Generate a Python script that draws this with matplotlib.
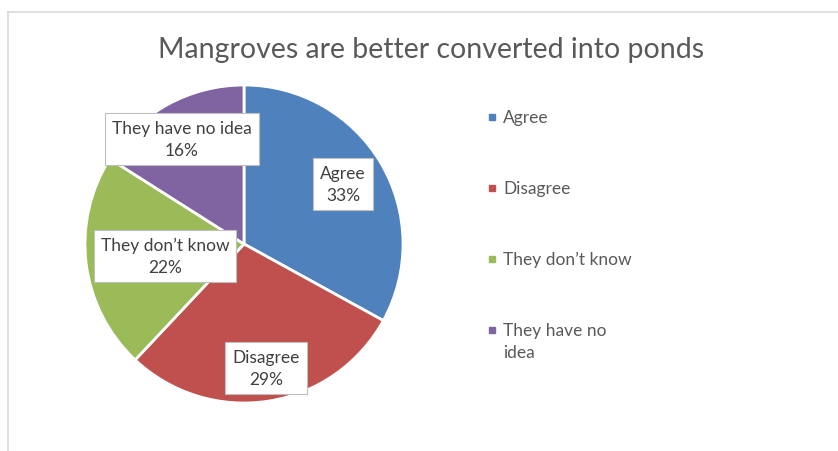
import matplotlib
matplotlib.use("Agg")
import matplotlib.pyplot as plt

title = "Mangroves are better converted into ponds"
categories = ["Agree", "Disagree", "They don\u2019t know", "They have no idea"]
legend_labels = ["Agree", "Disagree", "They don\u2019t know", "They have no\nidea"]
values = [33, 29, 22, 16]
colors = ["#4F81BD", "#C0504D", "#9BBB59", "#8064A2"]

W, H = 838, 452
plt.rcParams['font.family'] = ['Lato', 'DejaVu Sans']
fig = plt.figure(figsize=(W / 100, H / 100), dpi=100)
ax = fig.add_axes([0, 0, 1, 1])
ax.set_xlim(0, W)
ax.set_ylim(0, H)
ax.set_aspect('equal')
ax.axis('off')

# frame lines (top and left)
ax.plot([8, W], [H - 13, H - 13], color="#D9D9D9", lw=1.2)
ax.plot([8, 8], [0, H - 13], color="#D9D9D9", lw=1.2)

cx, cy, r = 244, H - 245, 159
wedges, _ = ax.pie(values, colors=colors, startangle=90, counterclock=False,
                   center=(cx, cy), radius=r,
                   wedgeprops=dict(edgecolor="white", linewidth=2))
ax.set_xlim(0, W)
ax.set_ylim(0, H)

# label positions (image pixel coords of box centres)
label_pos = [(343, 185), (266, 369), (165, 257), (182, 140)]
for cat, v, (lx, ly) in zip(categories, values, label_pos):
    ax.text(lx, H - ly, f"{cat}\n{v}%", ha="center", va="center",
            fontsize=12.5, color="#404040", linespacing=1.45,
            bbox=dict(boxstyle="square,pad=0.4", fc="white", ec="#BFBFBF", lw=0.8))

ax.text(431, H - 50, title, ha="center", va="center", fontsize=20.5, color="#595959")

# legend (drawn manually so the marker sits on the first text line)
leg_x, leg_y0, leg_step = 492, 118, 71
for i, (lab, c) in enumerate(zip(legend_labels, colors)):
    y = H - (leg_y0 + leg_step * i)
    ax.plot([leg_x], [y], marker='s', markersize=5, color=c, linestyle='')
    ax.text(leg_x + 11, y + 8, lab, ha="left", va="top", fontsize=12.5,
            color="#595959", linespacing=1.45)

fig.savefig("out.png", dpi=100)
